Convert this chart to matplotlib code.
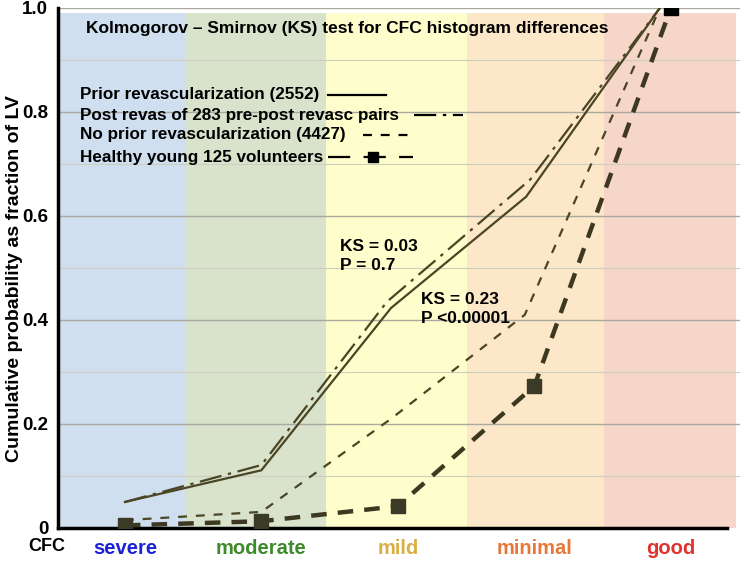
import matplotlib.pyplot as plt
from matplotlib.lines import Line2D

plt.rcParams['font.family'] = ['Liberation Sans', 'DejaVu Sans']
plt.rcParams['font.weight'] = 'bold'

categories = ["severe", "moderate", "mild", "minimal", "good"]
cat_colors = ["#1c22d8", "#3f8a2c", "#d8ae45", "#e8783a", "#e0322e"]
band_colors = ["#cfdfef", "#d9e3cc", "#fefdcc", "#fce8c8", "#f6d6c8"]
band_edges = [-0.49, 0.44, 1.47, 2.505, 3.51, 4.48]

# cumulative fraction of LV per CFC category
x_rev = [0, 1, 1.95, 2.94, 3.92]
prior_revasc = [0.05, 0.111, 0.423, 0.637, 1.0]
x_post = [0, 1, 1.92, 2.97, 3.92]
post_revasc = [0.05, 0.121, 0.435, 0.67, 1.0]
x_noprior = [0, 1, 1.95, 2.93, 3.92]
no_prior = [0.015, 0.031, 0.21, 0.41, 1.0]
x_healthy = [0, 1, 2, 3, 4]
healthy = [0.005, 0.013, 0.042, 0.273, 1.0]

line_col = "#4a4524"

fig = plt.figure(figsize=(7.42, 5.65), dpi=100)
ax = fig.add_axes([0.078, 0.0655, 0.919, 0.9205])

for i in range(5):
    ax.axvspan(band_edges[i], band_edges[i + 1], ymin=0, ymax=0.99,
               color=band_colors[i], zorder=0, lw=0)

for yv in [0.1, 0.3, 0.5, 0.7, 0.9]:
    ax.axhline(yv, color="#cdcdc0", lw=0.8, zorder=1)
for yv in [0.2, 0.4, 0.6, 0.8, 1.0]:
    ax.axhline(yv, color="#a9a9a0", lw=1.0, zorder=1)

ax.plot(x_rev, prior_revasc, color=line_col, lw=1.6, zorder=3)
ax.plot(x_post, post_revasc, color=line_col, lw=1.6, zorder=3,
        dashes=[10, 3, 1.5, 3])
ax.plot(x_noprior, no_prior, color=line_col, lw=1.6, zorder=3,
        dashes=[4, 4])
ax.plot(x_healthy, healthy, color="#3d3820", lw=3.2, zorder=3,
        dashes=[3.5, 2.5])
ax.plot(x_healthy[:-1], healthy[:-1], ls="none", marker="s", ms=10,
        color="#3b3a26", zorder=4)
ax.plot(x_healthy[-1:], healthy[-1:], ls="none", marker="s", ms=10,
        color="black", zorder=4)

ax.set_xlim(-0.491, 4.505)
ax.set_ylim(0, 1.0)
ax.set_yticks([0, 0.2, 0.4, 0.6, 0.8, 1.0])
ax.set_yticklabels(["0", "0.2", "0.4", "0.6", "0.8", "1.0"],
                   fontsize=13.5, fontweight="bold")
ax.tick_params(axis="y", length=0, pad=7)
ax.set_xticks(range(5))
ax.set_xticklabels(categories, fontsize=14.5, fontweight="bold")
for lbl, c in zip(ax.get_xticklabels(), cat_colors):
    lbl.set_color(c)
ax.tick_params(axis="x", length=0, pad=8)

for s in ["top", "right"]:
    ax.spines[s].set_visible(False)
ax.spines["left"].set_linewidth(2.5)
ax.spines["bottom"].set_linewidth(2.5)
ax.spines["bottom"].set_bounds(-0.491, 4.41)

ax.set_ylabel("Cumulative probability as fraction of LV", fontsize=14,
              fontweight="bold", va="center")
ax.yaxis.set_label_coords(-0.063, 0.48)
fig.text(0.038, 0.025, "CFC", fontsize=13, fontweight="bold")

ax.text(0.425, 0.96, "Kolmogorov \u2013 Smirnov (KS) test for CFC histogram differences",
        transform=ax.transAxes, ha="center", va="center", fontsize=12.5,
        fontweight="bold", zorder=5)

legend_rows = [
    ("Prior revascularization (2552)", 0.833, 0.396, 0.481, dict(ls="-")),
    ("Post revas of 283 pre-post revasc pairs", 0.794, 0.522, 0.594, dict(dashes=[10, 3, 1.5, 3])),
    ("No prior revascularization (4427)", 0.756, 0.447, 0.521, dict(dashes=[4, 4])),
    ("Healthy young 125 volunteers", 0.713, 0.396, 0.521, dict(dashes=[10, 6])),
]
for txt, yy, x0, x1, st in legend_rows:
    ax.text(0.032, yy, txt, transform=ax.transAxes, ha="left", va="center",
            fontsize=12.3, fontweight="bold", zorder=5)
    ax.add_line(Line2D([x0, x1], [yy, yy], transform=ax.transAxes,
                       color="black", lw=1.6, zorder=5, **st))
ax.plot([0.462], [0.713], transform=ax.transAxes, marker="s", ms=7,
        color="black", zorder=6)

ax.text(1.575, 0.523, "KS = 0.03\nP = 0.7", fontsize=12.5,
        fontweight="bold", ha="left", va="center", linespacing=1.3, zorder=5)
ax.text(2.17, 0.421, "KS = 0.23\nP <0.00001", fontsize=12.5,
        fontweight="bold", ha="left", va="center", linespacing=1.3, zorder=5)

fig.savefig("out.png", dpi=100)
